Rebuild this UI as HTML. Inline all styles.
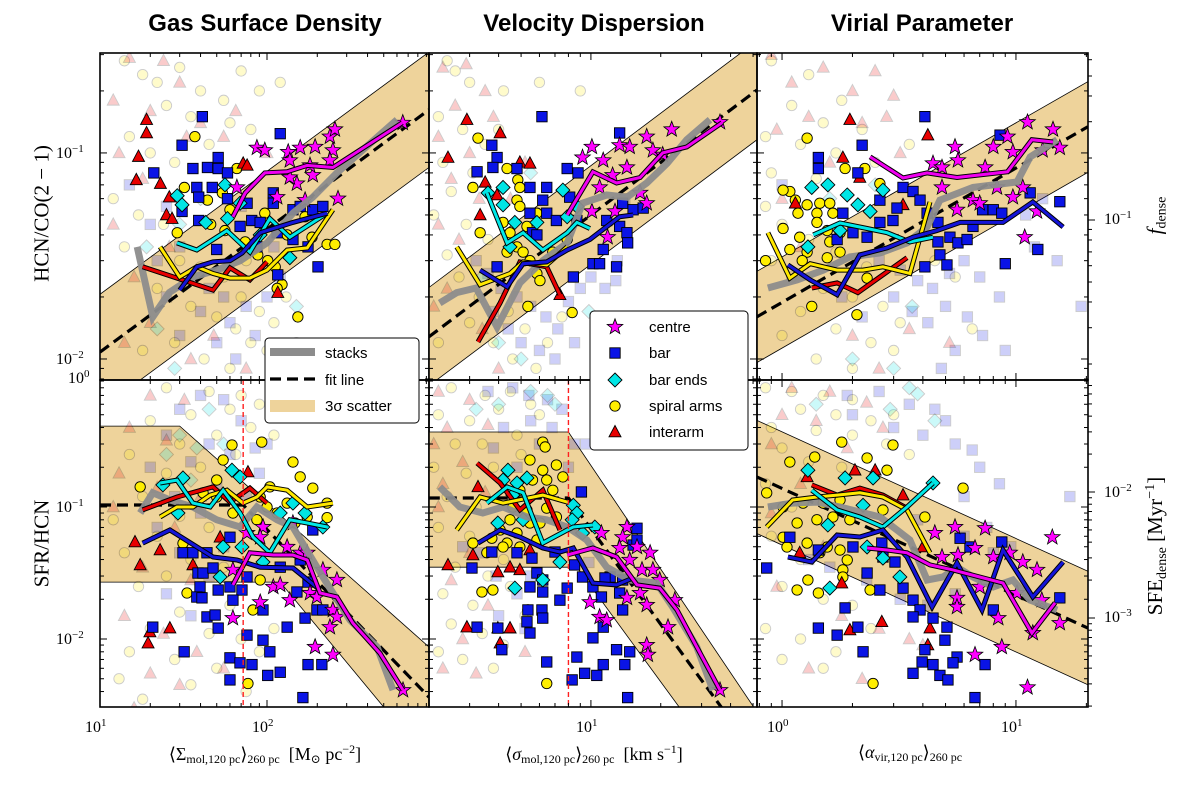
<!DOCTYPE html>
<html><head><meta charset="utf-8">
<style>
html,body{margin:0;padding:0;background:#fff;}
#wrap{position:relative;width:1200px;height:785px;overflow:hidden;background:#fff;font-family:"Liberation Serif","DejaVu Serif",serif;}
svg{position:absolute;left:0;top:0;}
.title{position:absolute;top:10px;font-family:"Liberation Sans",sans-serif;font-weight:bold;font-size:24px;text-align:center;width:330px;}
.tl{position:absolute;font-size:16px;white-space:nowrap;line-height:1;}
.tl sup{font-size:11px;vertical-align:6px;}
.xt{position:absolute;top:743px;font-size:18px;white-space:nowrap;text-align:center;line-height:1;}
.xt sub{font-size:12px;vertical-align:-3px;}
.xt sup{font-size:12px;vertical-align:7px;}
.yt{position:absolute;font-size:21px;white-space:nowrap;transform:rotate(-90deg);transform-origin:center center;text-align:center;line-height:1;}
.yt sub{font-size:14px;vertical-align:-4px;}
.yt sup{font-size:14px;vertical-align:8px;}
.lg{font-family:"Liberation Sans",sans-serif;font-size:15px;}
</style></head><body>
<div id="wrap">
<svg id="plot" width="1200" height="785" viewBox="0 0 1200 785"></svg>

<div class="title" style="left:100px">Gas Surface Density</div>
<div class="title" style="left:429px">Velocity Dispersion</div>
<div class="title" style="left:757px">Virial Parameter</div>

<div class="tl" style="left:56px;top:144px">10<sup>−1</sup></div>
<div class="tl" style="left:56px;top:350px">10<sup>−2</sup></div>
<div class="tl" style="left:68px;top:369px">10<sup>0</sup></div>
<div class="tl" style="left:56px;top:498px">10<sup>−1</sup></div>
<div class="tl" style="left:56px;top:630px">10<sup>−2</sup></div>

<div class="tl" style="left:1104px;top:210px">10<sup>−1</sup></div>
<div class="tl" style="left:1104px;top:483px">10<sup>−2</sup></div>
<div class="tl" style="left:1104px;top:608px">10<sup>−3</sup></div>

<div class="tl" style="left:85px;top:718px">10<sup>1</sup></div>
<div class="tl" style="left:252px;top:718px">10<sup>2</sup></div>
<div class="tl" style="left:576px;top:718px">10<sup>1</sup></div>
<div class="tl" style="left:767px;top:718px">10<sup>0</sup></div>
<div class="tl" style="left:1001px;top:718px">10<sup>1</sup></div>

<div class="xt" style="left:100px;width:330px">⟨Σ<sub>mol,120 pc</sub>⟩<sub>260 pc</sub> &nbsp;[M<sub>⊙</sub> pc<sup>−2</sup>]</div>
<div class="xt" style="left:429px;width:330px">⟨<i>σ</i><sub>mol,120 pc</sub>⟩<sub>260 pc</sub> &nbsp;[km s<sup>−1</sup>]</div>
<div class="xt" style="left:745px;width:330px">⟨<i>α</i><sub>vir,120 pc</sub>⟩<sub>260 pc</sub></div>

<div class="yt" style="left:-48px;top:203px;width:180px">HCN/CO(2 − 1)</div>
<div class="yt" style="left:-48px;top:533px;width:180px">SFR/HCN</div>
<div class="yt" style="left:1092px;top:203px;width:130px"><i>f</i><sub>dense</sub></div>
<div class="yt" style="left:1057px;top:533px;width:200px">SFE<sub>dense</sub> [Myr<sup>−1</sup>]</div>
</div>

<script>
// ---------- axis definitions ----------
const COLS=[{x0:100,x1:429,a:1,b:2.97},{x0:429,x1:757,a:0.302,b:1.716},{x0:757,x1:1088,a:-0.107,b:1.308}];
const ROWS=[{y0:53,y1:380,a:-2.102,b:-0.515},{y0:380,y1:707,a:-2.515,b:-0.038}];

// ---------- Panel 1: HCN/CO vs Sigma ----------
const p1FitX=[10,933];
const p1FitY=[0.0108,0.162];
const p1BandUpper=[[10,0.0206],[933,0.309]];
const p1BandLower=[[10,0.00568],[933,0.0851]];
const p1Stack=[[16.7,0.035],[20.7,0.016],[26,0.021],[36,0.025],[50,0.027],[69,0.030],[100,0.0366],[143,0.051],[188,0.061],[262,0.080],[600,0.145]];
const p1LineCentre=[[62.5,0.049],[74,0.064],[97,0.080],[132,0.081],[174,0.087],[248,0.085],[646,0.14]];
const p1LineBarEnds=[[28.9,0.0366],[38,0.0338],[57.5,0.042],[79,0.033],[104,0.048],[137,0.039],[229,0.051]];
const p1LineBar=[[30,0.0216],[38,0.028],[47.5,0.0296],[60,0.030],[71,0.0327],[91,0.041],[143,0.046],[229,0.051]];
const p1LineSpiral=[[22.9,0.035],[30,0.025],[38,0.028],[47.5,0.026],[60,0.0247],[79,0.0247],[100,0.027],[132,0.0338],[174,0.0346],[248,0.053]];
const p1LineInter=[[18,0.028],[28.9,0.0247],[47.5,0.0216],[60,0.0277],[79,0.0242],[100,0.0296]];
const p1Bar=[[41,0.15],[120,0.124],[31,0.109],[21,0.08],[51,0.095],[44,0.085],[36,0.084],[51,0.084],[58,0.08],[38,0.068],[47,0.068],[39,0.061],[58,0.060],[31,0.052],[39,0.047],[76,0.057],[81,0.047],[109,0.064],[109,0.057],[143,0.053],[158,0.055],[188,0.053],[216,0.055],[91,0.046],[115,0.041],[143,0.038],[176,0.035],[202,0.028],[116,0.0256],[87,0.035],[69,0.044],[50,0.034]];
const p1Spiral=[[37,0.12],[32,0.068],[66,0.084],[29,0.041],[54,0.064],[44,0.059],[60,0.053],[97,0.051],[132,0.040],[169,0.049],[229,0.036],[88,0.032],[101,0.030],[112,0.028],[123,0.023],[115,0.022],[153,0.016],[74,0.037],[46,0.045],[56,0.042],[255,0.036],[186,0.039]];
const p1BarEnd=[[29,0.062],[31,0.056],[43,0.046],[56,0.070],[58,0.048],[91,0.040],[137,0.031],[69,0.057]];
const p1Inter=[[19,0.145],[19,0.125],[17,0.096],[16.5,0.074],[23,0.071],[26,0.061],[25,0.050],[27,0.048],[72,0.089],[76,0.087],[116,0.021]];
const p1Centre=[[87,0.106],[97,0.103],[134,0.101],[158,0.106],[137,0.092],[194,0.107],[238,0.12],[255,0.13],[248,0.103],[238,0.092],[188,0.078],[151,0.071],[115,0.061],[137,0.076],[66,0.068],[266,0.060],[169,0.059],[650,0.14],[181,0.087]];
const p1BgCircle=[[14,0.28],[18,0.24],[22,0.22],[30,0.26],[40,0.2],[55,0.18],[70,0.25],[90,0.2],[120,0.22],[25,0.17],[35,0.15],[60,0.14],[80,0.13],[15,0.12],[20,0.1],[28,0.09],[45,0.11],[12,0.06],[17,0.05],[24,0.045],[14,0.035],[30,0.03],[40,0.028],[55,0.025],[70,0.02],[22,0.022],[35,0.018],[50,0.016],[65,0.014],[80,0.012],[100,0.011],[28,0.012],[42,0.01],[18,0.011],[90,0.017],[110,0.015],[60,0.009],[130,0.02],[75,0.03],[150,0.012]];
const p1BgSquare=[[20,0.045],[25,0.055],[30,0.035],[22,0.03],[35,0.025],[45,0.022],[55,0.02],[40,0.017],[60,0.015],[75,0.018],[85,0.013],[50,0.012],[30,0.013],[100,0.02],[120,0.025],[65,0.01],[25,0.02],[15,0.07],[70,0.055],[110,0.035]];
const p1BgTri=[[15,0.29],[24,0.28],[30,0.22],[12,0.18],[20,0.16],[40,0.14],[65,0.16],[13,0.1],[33,0.12],[55,0.12],[18,0.075],[12,0.045],[26,0.035],[16,0.025],[20,0.015],[35,0.01],[48,0.013],[75,0.009],[14,0.012],[100,0.1]];
const p1BgDiamond=[[19,0.035],[30,0.045],[22,0.014],[28,0.009],[150,0.018],[40,0.06]];

// ---------- Panel 2: HCN/CO vs velocity dispersion ----------
const p2FitX=[2.0,52];
const p2FitY=[0.0128,0.202];
const p2BandUpper=[[2.0,0.0222],[52,0.35]];
const p2BandLower=[[2.0,0.0074],[52,0.116]];
const p2Stack=[[2.23,0.0187],[2.64,0.021],[3.2,0.0221],[3.94,0.0143],[4.94,0.0234],[6.2,0.030],[7.9,0.0366],[9.2,0.057],[11.7,0.0625],[14.3,0.061],[17.4,0.0715],[21.3,0.089],[25.9,0.116],[32.6,0.145]];
const p2LineCentre=[[7.9,0.050],[10.2,0.081],[12.9,0.0715],[16.3,0.076],[20.4,0.1],[25.9,0.107],[36.7,0.14]];
const p2LineBarEnds=[[3.56,0.064],[4.35,0.0366],[5.1,0.041],[6.2,0.0338],[7.9,0.041],[8.7,0.046],[9.9,0.043]];
const p2LineBar=[[3.33,0.027],[4.35,0.0224],[5.1,0.029],[6.45,0.0296],[7.9,0.0338],[9.9,0.038],[13.3,0.049],[15.2,0.050]];
const p2LineSpiral=[[2.64,0.035],[3.33,0.0229],[4.48,0.026],[5.1,0.0296],[6.45,0.0286],[7.9,0.035]];
const p2LineInter=[[3.26,0.0121],[4.06,0.0187],[4.94,0.0296],[6.45,0.028],[7.35,0.0205]];
const p2Bar=[[6.15,0.15],[3.74,0.109],[3.94,0.095],[3.78,0.085],[3.23,0.081],[4.8,0.084],[7.9,0.084],[8.8,0.08],[5.46,0.068],[6.45,0.068],[6.2,0.059],[5.46,0.051],[6.45,0.051],[7.1,0.047],[5.6,0.041],[5.85,0.040],[8.1,0.061],[8.7,0.047],[13.3,0.125],[13.7,0.057],[11.7,0.047],[13.3,0.044],[14.3,0.041],[15.2,0.053],[16.8,0.054],[14.4,0.0366],[11.3,0.034],[10.2,0.029],[10.9,0.029],[12.9,0.028],[8.4,0.025],[3.94,0.028]];
const p2Spiral=[[3.26,0.118],[3.1,0.068],[3.33,0.041],[4.35,0.084],[4.84,0.074],[4.94,0.068],[4.8,0.059],[4.94,0.055],[4.18,0.046],[4.48,0.041],[5.3,0.044],[5.85,0.051],[4.8,0.035],[5.1,0.033],[5.85,0.026],[6.03,0.024],[5.46,0.030],[6.85,0.033],[4.35,0.033],[5.35,0.018],[8.3,0.0168],[7.9,0.038]];
const p2BarEnd=[[3.6,0.064],[4.18,0.068],[4.18,0.056],[4.7,0.046],[4.48,0.035],[5.85,0.046],[7.57,0.066],[8.7,0.055],[7.9,0.049]];
const p2Inter=[[2.92,0.145],[4.06,0.125],[2.42,0.095],[3.5,0.072],[3.33,0.050],[3.94,0.0625],[4.94,0.09],[5.46,0.089],[7.35,0.0205]];
const p2Centre=[[10.1,0.107],[9.2,0.095],[11.3,0.092],[13.3,0.109],[14.7,0.107],[17.4,0.12],[22.3,0.13],[18.5,0.103],[14.3,0.085],[12.4,0.078],[10.9,0.068],[10.1,0.052],[12.7,0.052],[16.3,0.064],[17.4,0.057],[11.8,0.039],[20.4,0.098],[36,0.141]];
const p2BgCircle=[[2.4,0.28],[2.6,0.25],[3.0,0.22],[4.2,0.2],[2.2,0.15],[2.8,0.13],[3.5,0.11],[2.3,0.09],[3.1,0.08],[2.5,0.065],[2.1,0.05],[2.9,0.045],[3.6,0.038],[2.4,0.032],[2.7,0.025],[3.3,0.02],[4.4,0.017],[5.2,0.014],[3.8,0.012],[4.6,0.01],[6.5,0.012],[2.2,0.012],[3.0,0.015],[5.8,0.009],[7.5,0.016],[6.0,0.22],[4.0,0.13],[9.0,0.2]];
const p2BgSquare=[[3.2,0.03],[3.6,0.026],[4.1,0.022],[4.8,0.02],[5.5,0.018],[6.4,0.016],[7.2,0.014],[8.0,0.019],[9.0,0.022],[10,0.025],[11.5,0.022],[12.8,0.024],[4.4,0.014],[5.0,0.012],[6.0,0.011],[7.0,0.01],[3.8,0.017],[8.5,0.012],[14,0.06],[13,0.03]];
const p2BgTri=[[2.3,0.26],[2.9,0.27],[3.5,0.2],[2.6,0.17],[3.8,0.15],[2.2,0.12],[3.0,0.1],[2.5,0.075],[3.3,0.06],[2.2,0.045],[2.7,0.038],[2.4,0.022],[3.4,0.014],[4.5,0.06],[5.2,0.09],[2.1,0.018],[4.0,0.009]];
const p2BgDiamond=[[4.0,0.012],[5.0,0.01],[3.4,0.025],[9.8,0.017],[5.5,0.08]];

// ---------- Panel 3: HCN/CO vs virial parameter ----------
const p3FitX=[0.78,20.3];
const p3FitY=[0.016,0.134];
const p3BandUpper=[[0.78,0.0266],[20.3,0.222]];
const p3BandLower=[[0.78,0.0096],[20.3,0.0805]];
const p3Stack=[[0.87,0.0221],[1.16,0.0242],[1.5,0.027],[1.95,0.0313],[2.62,0.0327],[3.42,0.0366],[4.17,0.0437],[4.73,0.059],[6.55,0.068],[10.1,0.0723],[11.5,0.0957],[15,0.116]];
const p3LineCentre=[[2.38,0.0957],[3.29,0.0756],[4.17,0.080],[5.6,0.076],[9.2,0.081],[11.7,0.116],[14.4,0.113]];
const p3LineBarEnds=[[1.36,0.040],[1.77,0.0457],[2.31,0.043],[2.81,0.041],[3.52,0.037],[4.42,0.039]];
const p3LineBar=[[1.06,0.0286],[1.32,0.0242],[1.72,0.0205],[2.15,0.032],[2.81,0.0346],[3.63,0.039],[4.59,0.042],[5.77,0.046],[8.8,0.046],[11.8,0.0578],[15.9,0.0437]];
const p3LineSpiral=[[0.87,0.041],[1.08,0.0247],[1.32,0.029],[1.72,0.027],[2.22,0.027],[2.7,0.028],[3.52,0.026],[4.29,0.0578]];
const p3LineInter=[[1.34,0.0221],[1.72,0.0234],[2.11,0.021],[3.42,0.031]];
const p3Bar=[[4.08,0.15],[2.2,0.109],[1.43,0.095],[1.43,0.084],[2.11,0.08],[2.62,0.059],[1.82,0.051],[1.72,0.038],[2.01,0.041],[2.31,0.039],[2.62,0.046],[2.98,0.047],[3.1,0.054],[3.29,0.068],[3.63,0.065],[3.89,0.059],[4.17,0.051],[4.64,0.046],[4.64,0.037],[4.73,0.032],[5.07,0.0286],[4.08,0.028],[5.22,0.039],[5.65,0.0366],[6.18,0.038],[6.55,0.044],[7.2,0.053],[8.0,0.053],[8.7,0.051],[8.55,0.122],[11.5,0.064],[15.4,0.058],[12.4,0.034],[9.0,0.029]];
const p3Spiral=[[1.28,0.118],[1.86,0.084],[1.08,0.065],[1.14,0.059],[1.28,0.056],[1.45,0.057],[1.6,0.057],[1.17,0.051],[1.41,0.051],[1.65,0.051],[1.01,0.043],[1.19,0.039],[1.41,0.046],[1.56,0.042],[1.77,0.041],[1.6,0.037],[1.08,0.034],[1.28,0.033],[1.56,0.031],[0.85,0.030],[1.22,0.030],[1.77,0.033],[2.31,0.0247],[1.34,0.018],[2.09,0.0164],[2.26,0.084],[2.62,0.071],[1.01,0.066]];
const p3BarEnd=[[1.34,0.068],[1.57,0.070],[1.9,0.0625],[2.11,0.056],[2.7,0.066],[2.38,0.052],[1.29,0.035],[1.77,0.042]];
const p3Inter=[[1.95,0.145],[4.2,0.122],[1.82,0.095],[1.14,0.057],[2.15,0.076],[3.29,0.056]];
const p3Centre=[[5.49,0.107],[5.65,0.092],[4.42,0.089],[4.83,0.085],[7.38,0.085],[8.0,0.107],[9.2,0.12],[11.2,0.141],[14.4,0.13],[13,0.103],[15.4,0.106],[9.7,0.101],[4.83,0.068],[6.55,0.059],[5.6,0.053],[8.3,0.068],[9.7,0.061],[10.7,0.068],[12.3,0.052],[10.9,0.039],[7.0,0.057]];
const p3BgCircle=[[0.9,0.28],[1.3,0.24],[1.8,0.18],[1.1,0.17],[1.5,0.14],[2.2,0.13],[0.85,0.12],[1.2,0.11],[1.7,0.1],[2.5,0.09],[3.5,0.11],[0.9,0.08],[1.4,0.075],[0.85,0.055],[1.0,0.045],[1.3,0.038],[1.7,0.033],[2.3,0.028],[0.9,0.03],[1.1,0.025],[1.5,0.022],[2.0,0.02],[2.7,0.018],[1.2,0.017],[1.7,0.014],[2.4,0.012],[3.2,0.015],[1.0,0.013],[1.4,0.01],[2.0,0.009],[3.0,0.011],[4.5,0.03],[5.5,0.025],[6.5,0.014]];
const p3BgSquare=[[2.6,0.03],[3.2,0.027],[3.8,0.024],[4.4,0.022],[5.2,0.026],[6.0,0.03],[7.0,0.025],[3.0,0.02],[3.6,0.017],[4.2,0.015],[5.0,0.018],[6.2,0.016],[7.2,0.013],[8.5,0.02],[9.0,0.011],[12,0.035],[15,0.03],[19,0.018],[5.5,0.011],[1.8,0.02],[2.2,0.016],[11,0.05],[13,0.06],[4.8,0.009],[1.0,0.07]];
const p3BgTri=[[0.9,0.3],[1.5,0.26],[2.5,0.25],[1.1,0.22],[2.0,0.2],[3.0,0.19],[1.3,0.15],[2.8,0.15],[0.95,0.13],[2.2,0.14],[3.2,0.1],[1.6,0.09],[1.0,0.06],[1.2,0.035],[2.0,0.013],[3.5,0.014],[5.2,0.012],[2.6,0.009]];
const p3BgDiamond=[[1.6,0.06],[3.6,0.018],[3.0,0.009],[2.0,0.01],[2.5,0.07]];

// ---------- Panel 4: SFR/HCN vs Sigma ----------
const p4FitX=[10,72,933];
const p4FitY=[0.1035,0.1035,0.00363];
const p4Band=[[10,0.41],[30,0.41],[933,0.0087],[933,0.0028],[529,0.0028],[120,0.027],[10,0.027]];
const p4Stack=[[17.4,0.090],[20.7,0.128],[26.2,0.113],[36,0.1],[50,0.080],[69,0.0705],[87,0.1],[115,0.080],[143,0.0705],[199,0.035],[248,0.0223],[314,0.0139],[456,0.0087],[568,0.0041]];
const p4LineCentre=[[62.5,0.0257],[79,0.045],[109,0.0433],[143,0.0433],[174,0.0397],[208,0.0223],[262,0.0208],[327,0.0132],[475,0.0078],[652,0.0041]];
const p4LineBarEnds=[[22.9,0.152],[28.9,0.16],[36,0.107],[45.6,0.1],[54.6,0.134],[69,0.090],[82.4,0.0593],[104,0.045],[137,0.080],[174,0.0756],[229,0.0705]];
const p4LineBar=[[18,0.0533],[26.2,0.067],[47.5,0.0418],[66,0.0397],[91,0.035],[143,0.0345],[208,0.0235]];
const p4LineSpiral=[[22.9,0.084],[28.9,0.1],[36,0.1],[45.6,0.123],[57.5,0.134],[71.8,0.107],[87,0.119],[100,0.142],[132,0.134],[174,0.1],[248,0.107]];
const p4LineInter=[[18,0.095],[28.9,0.119],[47.5,0.142],[60,0.109],[79,0.139],[100,0.107]];
const p4Bar=[[31.4,0.045],[36,0.045],[43.7,0.045],[60,0.059],[38.6,0.0316],[41.4,0.0316],[47.5,0.0345],[39.7,0.0248],[38,0.0208],[40.8,0.0205],[51,0.0235],[60,0.0248],[70.8,0.0235],[75.9,0.0295],[62.5,0.0197],[43.7,0.0147],[48.9,0.0152],[51,0.0121],[75.9,0.0107],[60,0.0072],[68.9,0.0066],[81.3,0.0064],[101,0.0053],[120,0.0056],[94.6,0.0098],[104,0.008],[132,0.0123],[169,0.0144],[199,0.0166],[216,0.0166],[151,0.0227],[176,0.027],[176,0.0064],[213,0.0064],[164,0.0036],[31.9,0.008],[60,0.0049],[20.7,0.0123],[120,0.035],[158,0.0397],[188,0.067],[94.6,0.0166]];
const p4Spiral=[[61.7,0.295],[93,0.31],[143,0.219],[158,0.169],[188,0.139],[54.6,0.227],[50,0.16],[17.4,0.142],[104,0.142],[91,0.119],[132,0.107],[100,0.1],[87,0.080],[115,0.090],[229,0.107],[229,0.083],[174,0.084],[31.4,0.053],[91,0.028],[82.4,0.0166],[76.9,0.0046],[33.2,0.0223],[62.5,0.090],[50,0.119],[41.4,0.128],[147,0.0756]];
const p4BarEnd=[[23.8,0.147],[31.4,0.166],[29.3,0.090],[61.7,0.19],[68.9,0.169],[54.6,0.0498],[70.8,0.0498],[52.4,0.0295],[94.6,0.0383],[120,0.090],[169,0.090],[143,0.107],[216,0.0705]];
const p4Inter=[[76.9,0.184],[16.2,0.0543],[22.9,0.0472],[17.4,0.0364],[36,0.0364],[52.4,0.059],[19.9,0.0113],[26.2,0.0121],[19.4,0.0093]];
const p4Centre=[[94.6,0.0705],[91,0.059],[132,0.0498],[158,0.045],[174,0.045],[216,0.0334],[262,0.028],[248,0.0166],[238,0.0123],[262,0.0147],[62.5,0.0334],[62.5,0.0144],[91,0.019],[109,0.0248],[120,0.0257],[137,0.0197],[181,0.0223],[199,0.0208],[194,0.0087],[248,0.0076],[652,0.0041],[143,0.0756],[75.9,0.0635]];
const p4BgCircle=[[25,0.8],[45,0.75],[70,0.7],[90,0.6],[60,0.55],[35,0.5],[20,0.45],[80,0.4],[110,0.35],[50,0.35],[30,0.3],[15,0.25],[65,0.25],[40,0.2],[25,0.18],[18,0.12],[12,0.08],[30,0.085],[45,0.07],[22,0.06],[14,0.045],[35,0.04],[55,0.035],[25,0.03],[17,0.025],[40,0.022],[60,0.018],[30,0.016],[20,0.012],[45,0.011],[70,0.01],[15,0.008],[28,0.007],[50,0.006],[90,0.008],[13,0.005],[35,0.0045],[18,0.0035],[75,0.004],[110,0.012]];
const p4BgSquare=[[40,0.7],[55,0.65],[30,0.55],[70,0.45],[25,0.35],[45,0.3],[85,0.28],[60,0.25],[35,0.22],[20,0.2],[50,0.15],[28,0.12],[75,0.12],[40,0.09],[22,0.07],[55,0.05],[30,0.045],[45,0.03],[25,0.022],[35,0.015],[100,0.3],[90,0.18]];
const p4BgTri=[[20,0.7],[32,0.65],[15,0.4],[25,0.32],[13,0.18],[22,0.14],[40,0.12],[12,0.1],[28,0.07],[18,0.035],[35,0.028],[14,0.015],[24,0.011],[38,0.008],[20,0.0055],[30,0.0045],[55,0.006],[16,0.003]];
const p4BgDiamond=[[45,0.55],[30,0.35],[38,0.28],[55,0.3],[25,0.25],[35,0.16]];

// ---------- Panel 5: SFR/HCN vs velocity dispersion ----------
const p5FitX=[2,8,36.7];
const p5FitY=[0.117,0.117,0.003];
const p5Band=[[2,0.37],[8,0.37],[52,0.0028],[24.9,0.0028],[8.7,0.035],[2,0.035]];
const p5Stack=[[2.23,0.142],[2.72,0.1],[3.42,0.090],[4.18,0.1],[5.3,0.084],[6.45,0.080],[7.9,0.0705],[9.6,0.0562],[11.7,0.035],[14.7,0.028],[19.2,0.0265],[22.5,0.0175],[28.6,0.0087],[33.6,0.0041]];
const p5LineCentre=[[7.9,0.0433],[10.2,0.0489],[12.9,0.0418],[15.8,0.0257],[19.8,0.0243],[23.5,0.0166],[28.6,0.0087],[36,0.0041]];
const p5LineBarEnds=[[3.56,0.107],[4.35,0.142],[5.1,0.128],[6.2,0.0533],[7.9,0.067],[8.4,0.0705],[10.2,0.073]];
const p5LineBar=[[3.26,0.0533],[4.06,0.067],[4.94,0.0593],[6.2,0.0489],[7.35,0.0456],[8.4,0.0489],[10.2,0.0265],[12.9,0.0257],[15.2,0.029]];
const p5LineSpiral=[[2.64,0.067],[3.33,0.119],[4.18,0.107],[6.2,0.123],[7.9,0.109]];
const p5LineInter=[[3.23,0.215],[4.06,0.152],[4.94,0.095],[6.2,0.134],[7.35,0.067]];
const p5Bar=[[9.1,0.13],[3.07,0.0345],[3.74,0.0456],[4.8,0.045],[5.57,0.041],[7.0,0.0456],[8.5,0.0364],[5.85,0.0316],[6.2,0.028],[5.46,0.0248],[6.2,0.0227],[7.9,0.0243],[9.2,0.0295],[10.2,0.0248],[11.1,0.0208],[12.1,0.0295],[13.3,0.0223],[15.8,0.069],[13.7,0.0166],[11.3,0.0123],[5.35,0.0166],[6.15,0.0166],[6.2,0.0144],[5.3,0.0135],[5.46,0.0111],[4.13,0.0083],[6.45,0.0067],[8.7,0.0073],[9.4,0.0055],[10.6,0.0053],[11.3,0.0064],[10.2,0.0102],[12.9,0.0083],[14,0.0064],[14.7,0.008],[8.3,0.0049],[14.4,0.0036],[3.23,0.0123],[3.97,0.0121],[7.35,0.0197],[15.2,0.0515],[15.8,0.0562],[11.5,0.029],[13.7,0.028]];
const p5Spiral=[[6.2,0.31],[6.35,0.285],[5.46,0.227],[6.2,0.19],[7.1,0.208],[5.6,0.16],[6.45,0.16],[7.57,0.169],[4.94,0.134],[6.85,0.134],[4.61,0.1],[5.3,0.095],[6.45,0.098],[4.48,0.080],[5.46,0.0756],[4.06,0.067],[4.8,0.0635],[6.03,0.0756],[3.1,0.0533],[3.74,0.058],[4.35,0.0533],[4.94,0.0498],[5.85,0.0562],[7.1,0.084],[3.39,0.0227],[3.78,0.0235],[5.35,0.0166],[6.45,0.0046],[4.18,0.0498],[3.56,0.045]];
const p5BarEnd=[[4.39,0.19],[4.18,0.16],[4.8,0.152],[5.3,0.166],[4.61,0.123],[5.1,0.080],[3.97,0.0756],[8.4,0.103],[8.7,0.090],[8.3,0.080],[7.35,0.0383],[6.2,0.028],[4.7,0.0243],[10.4,0.0705],[9.2,0.0635]];
const p5Inter=[[3.26,0.142],[2.42,0.0364],[3.1,0.0433],[3.97,0.0322],[4.94,0.0334],[4.48,0.035],[2.92,0.0123],[3.97,0.0121],[4.48,0.0121],[4.06,0.0093],[5.46,0.0472]];
const p5Centre=[[14.3,0.0705],[11.1,0.0635],[13.7,0.059],[15.8,0.0498],[13.3,0.0489],[18,0.045],[14.7,0.0397],[16.6,0.0334],[18.5,0.0334],[16.3,0.0223],[14.3,0.0205],[17.4,0.0181],[9.9,0.019],[10.9,0.0147],[11.7,0.0139],[23,0.0197],[21.5,0.0123],[17.4,0.009],[17.6,0.0076],[36,0.0041],[19.8,0.028]];
const p5BgCircle=[[2.5,0.8],[3.5,0.7],[4.5,0.75],[2.2,0.5],[3.0,0.45],[4.0,0.55],[5.5,0.6],[2.6,0.3],[3.4,0.3],[4.8,0.35],[2.1,0.2],[2.9,0.18],[3.8,0.2],[2.4,0.12],[3.2,0.1],[2.2,0.07],[3.0,0.06],[4.2,0.04],[2.6,0.035],[3.6,0.03],[2.3,0.022],[3.1,0.018],[4.5,0.025],[2.5,0.013],[3.4,0.011],[4.2,0.009],[2.8,0.007],[3.8,0.006],[2.2,0.008],[5.2,0.015],[6.0,0.5],[5.0,0.25]];
const p5BgSquare=[[3.6,0.75],[4.6,0.8],[5.4,0.7],[6.5,0.65],[7.5,0.55],[4.2,0.4],[5.5,0.45],[6.8,0.4],[8.5,0.3],[9.5,0.3],[3.8,0.28],[6.0,0.3],[4.8,0.2],[3.3,0.045],[3.9,0.03],[4.8,0.022],[5.5,0.03],[2.8,0.05],[9.8,0.038],[8.0,0.2],[4.0,0.015],[5.2,0.012]];
const p5BgTri=[[2.2,0.75],[3.0,0.65],[2.4,0.4],[3.6,0.42],[2.1,0.3],[2.8,0.22],[2.3,0.15],[3.5,0.13],[2.2,0.1],[3.0,0.045],[2.5,0.028],[3.6,0.018],[4.5,0.012],[2.8,0.01],[5.2,0.008],[3.2,0.0055],[2.3,0.006]];
const p5BgDiamond=[[5.5,0.75],[6.5,0.7],[4.0,0.6],[3.2,0.55],[7.0,0.6]];

// ---------- Panel 6: SFR/HCN vs virial parameter ----------
const p6FitX=[0.78,20.3];
const p6FitY=[0.169,0.0121];
const p6Band=[[0.78,0.454],[20.3,0.0326],[20.3,0.0045],[0.78,0.063]];
const p6Stack=[[0.87,0.1],[1.11,0.107],[1.41,0.109],[1.77,0.1],[2.15,0.0917],[2.62,0.084],[3.1,0.067],[3.52,0.0562],[4.17,0.028],[4.88,0.0295],[5.6,0.035],[6.55,0.0295],[8.0,0.0248],[9.7,0.028],[11.5,0.0197],[15,0.0166]];
const p6LineCentre=[[2.31,0.0489],[2.81,0.0472],[3.42,0.045],[4.29,0.0364],[5.38,0.0334],[7.0,0.0295],[8.8,0.0265],[11.7,0.0111],[14.7,0.0188]];
const p6LineBarEnds=[[1.34,0.134],[1.72,0.095],[2.15,0.084],[2.7,0.0705],[3.42,0.1],[4.42,0.152]];
const p6LineBar=[[1.06,0.0418],[1.34,0.0383],[1.72,0.0614],[2.15,0.0593],[2.7,0.067],[3.42,0.0418],[4.38,0.0175],[5.6,0.0377],[7.16,0.0166],[8.8,0.0472],[11.8,0.0208],[15.9,0.0383]];
const p6LineSpiral=[[0.86,0.0705],[1.11,0.113],[1.41,0.119],[1.72,0.123],[2.15,0.128],[2.7,0.119],[3.42,0.095],[4.29,0.045]];
const p6LineInter=[[1.34,0.147],[1.72,0.123],[2.15,0.139],[2.7,0.123],[3.42,0.098]];
const p6Bar=[[0.86,0.0345],[1.08,0.059],[1.43,0.0472],[2.01,0.0498],[2.31,0.0316],[2.67,0.0533],[2.62,0.0235],[3.29,0.0243],[1.86,0.0172],[1.43,0.0121],[1.72,0.0107],[2.11,0.0123],[2.22,0.008],[2.7,0.0418],[3.63,0.0197],[3.89,0.0166],[3.63,0.0147],[4.42,0.0144],[5.07,0.0123],[4.08,0.0083],[3.97,0.0067],[4.42,0.0064],[4.73,0.0053],[5.12,0.0049],[4.97,0.0098],[5.6,0.0073],[5.38,0.0066],[7.38,0.0064],[6.68,0.0036],[6.36,0.0498],[5.77,0.058],[8.0,0.0166],[8.7,0.0543],[15.4,0.0205],[3.63,0.0055],[3.04,0.0383]];
const p6Spiral=[[1.8,0.31],[2.98,0.295],[1.38,0.239],[2.31,0.235],[1.08,0.219],[2.81,0.19],[0.86,0.128],[5.94,0.139],[4.08,0.084],[1.01,0.1],[1.23,0.107],[1.5,0.107],[1.77,0.113],[1.16,0.0756],[1.41,0.080],[1.65,0.084],[1.95,0.080],[1.01,0.059],[1.28,0.0533],[1.56,0.0498],[1.77,0.0472],[1.9,0.0397],[1.05,0.0498],[1.45,0.045],[1.82,0.0334],[1.29,0.028],[1.16,0.0235],[1.43,0.0223],[1.82,0.0295],[2.38,0.0235],[2.45,0.0046],[2.7,0.095]];
const p6BarEnd=[[1.29,0.19],[1.86,0.166],[2.45,0.166],[1.57,0.073],[2.22,0.103],[3.19,0.0295],[2.7,0.041],[1.6,0.0243],[2.31,0.0498],[4.42,0.152]];
const p6Inter=[[2.05,0.19],[2.5,0.19],[1.28,0.169],[3.29,0.123],[4.0,0.0498],[1.19,0.045],[1.8,0.0265],[2.67,0.0135],[1.95,0.0117],[4.29,0.0121],[4.2,0.009]];
const p6Centre=[[4.5,0.0635],[5.49,0.0705],[7.38,0.069],[6.68,0.0489],[5.65,0.0433],[4.83,0.0418],[8.0,0.0418],[10.7,0.0383],[12.3,0.0334],[9.4,0.045],[7.0,0.0248],[12.9,0.0197],[5.6,0.0205],[5.6,0.0175],[8.4,0.0144],[8.7,0.0087],[6.68,0.0076],[11.2,0.0043],[14.3,0.059],[15.4,0.0132],[11.8,0.0111],[10.1,0.0223]];
const p6BgCircle=[[0.85,0.8],[1.1,0.75],[1.5,0.7],[2.0,0.65],[1.2,0.55],[1.7,0.5],[2.4,0.45],[0.9,0.4],[1.4,0.38],[2.0,0.35],[2.8,0.3],[1.0,0.28],[1.3,0.22],[1.8,0.2],[2.5,0.18],[0.85,0.15],[1.1,0.1],[0.9,0.06],[1.2,0.04],[1.0,0.025],[1.5,0.02],[2.0,0.018],[0.85,0.012],[1.2,0.01],[1.7,0.008],[2.4,0.012],[1.0,0.007],[1.5,0.006],[3.5,0.25],[3.0,0.5]];
const p6BgSquare=[[1.9,0.7],[2.6,0.75],[3.5,0.6],[4.5,0.55],[5.0,0.45],[3.0,0.4],[4.0,0.35],[5.5,0.3],[6.5,0.27],[7.0,0.2],[8.5,0.15],[6.0,0.12],[17,0.12],[7.5,0.07],[9.5,0.05],[1.3,0.04],[1.6,0.035],[2.3,0.028],[3.2,0.02],[4.2,0.018],[5.5,0.022],[6.0,0.06],[8.0,0.045],[2.0,0.5],[3.8,0.08]];
const p6BgTri=[[1.1,0.8],[1.6,0.75],[2.3,0.62],[1.0,0.5],[1.4,0.45],[2.7,0.4],[0.9,0.3],[1.9,0.28],[1.2,0.15],[0.9,0.09],[1.5,0.05],[0.95,0.025],[1.8,0.015],[2.6,0.012],[3.5,0.01],[1.3,0.006],[2.2,0.005],[4.0,0.009]];
const p6BgDiamond=[[3.5,0.8],[3.8,0.72],[4.5,0.45],[2.9,0.55],[1.4,0.6]];

// threshold lines (red dashed vertical)
const thresholdSigma=[72];
const thresholdVdisp=[8];

const PANELS=[
 {c:0,r:0,name:'gas-density-hcn-co',fitX:p1FitX,fitY:p1FitY,bandU:p1BandUpper,bandL:p1BandLower,stack:p1Stack,lines:[p1LineInter,p1LineSpiral,p1LineBarEnds,p1LineBar,p1LineCentre],bg:[p1BgCircle,p1BgSquare,p1BgTri,p1BgDiamond],fg:[p1Spiral,p1Inter,p1Bar,p1BarEnd,p1Centre]},
 {c:1,r:0,name:'vdisp-hcn-co',fitX:p2FitX,fitY:p2FitY,bandU:p2BandUpper,bandL:p2BandLower,stack:p2Stack,lines:[p2LineInter,p2LineSpiral,p2LineBarEnds,p2LineBar,p2LineCentre],bg:[p2BgCircle,p2BgSquare,p2BgTri,p2BgDiamond],fg:[p2Spiral,p2Inter,p2Bar,p2BarEnd,p2Centre]},
 {c:2,r:0,name:'virial-hcn-co',fitX:p3FitX,fitY:p3FitY,bandU:p3BandUpper,bandL:p3BandLower,stack:p3Stack,lines:[p3LineInter,p3LineSpiral,p3LineBarEnds,p3LineBar,p3LineCentre],bg:[p3BgCircle,p3BgSquare,p3BgTri,p3BgDiamond],fg:[p3Spiral,p3Inter,p3Bar,p3BarEnd,p3Centre]},
 {c:0,r:1,name:'gas-density-sfr-hcn',fitX:p4FitX,fitY:p4FitY,band:p4Band,stack:p4Stack,lines:[p4LineInter,p4LineSpiral,p4LineBarEnds,p4LineBar,p4LineCentre],bg:[p4BgCircle,p4BgSquare,p4BgTri,p4BgDiamond],fg:[p4Spiral,p4Inter,p4Bar,p4BarEnd,p4Centre],vline:thresholdSigma},
 {c:1,r:1,name:'vdisp-sfr-hcn',fitX:p5FitX,fitY:p5FitY,band:p5Band,stack:p5Stack,lines:[p5LineInter,p5LineSpiral,p5LineBarEnds,p5LineBar,p5LineCentre],bg:[p5BgCircle,p5BgSquare,p5BgTri,p5BgDiamond],fg:[p5Spiral,p5Inter,p5Bar,p5BarEnd,p5Centre],vline:thresholdVdisp},
 {c:2,r:1,name:'virial-sfr-hcn',fitX:p6FitX,fitY:p6FitY,band:p6Band,stack:p6Stack,lines:[p6LineInter,p6LineSpiral,p6LineBarEnds,p6LineBar,p6LineCentre],bg:[p6BgCircle,p6BgSquare,p6BgTri,p6BgDiamond],fg:[p6Spiral,p6Inter,p6Bar,p6BarEnd,p6Centre]}
];

const NS='http://www.w3.org/2000/svg';
const svg=document.getElementById('plot');
function mk(tag,attrs,parent){const e=document.createElementNS(NS,tag);for(const k in attrs)e.setAttribute(k,attrs[k]);(parent||svg).appendChild(e);return e;}
function sx(c,v){const C=COLS[c];return C.x0+(Math.log10(v)-C.a)/(C.b-C.a)*(C.x1-C.x0);}
function sy(r,v){const R=ROWS[r];return R.y1-(Math.log10(v)-R.a)/(R.b-R.a)*(R.y1-R.y0);}
function pathOf(c,r,pts){return pts.map((p,i)=>(i?'L':'M')+sx(c,p[0]).toFixed(1)+' '+sy(r,p[1]).toFixed(1)).join(' ');}

const LINECOL=['#e80000','#ffe800','#00e8e8','#1414d8','#f000f0'];
const FILL=['#ffee00','#e80000','#0a14e6','#00e5e5','#ff00ff'];
const KIND=['circle','tri','square','diamond','star'];
const KNAME=['spiral-arms','interarm','bar','bar-ends','centre'];

function marker(g,kind,x,y,fill,op){
  let e;
  if(kind==='circle'){e=mk('circle',{cx:x,cy:y,r:5.2,fill:fill,stroke:'#000','stroke-width':0.9,opacity:op},g);}
  else if(kind==='square'){e=mk('rect',{x:x-5.2,y:y-5.2,width:10.4,height:10.4,fill:fill,stroke:'#000','stroke-width':0.9,opacity:op},g);}
  else if(kind==='diamond'){e=mk('polygon',{points:`${x},${y-7} ${x+7},${y} ${x},${y+7} ${x-7},${y}`,fill:fill,stroke:'#000','stroke-width':0.9,opacity:op},g);}
  else if(kind==='tri'){e=mk('polygon',{points:`${x},${y-6.5} ${x+6},${y+4.8} ${x-6},${y+4.8}`,fill:fill,stroke:'#000','stroke-width':0.9,opacity:op},g);}
  else {let pts=[];for(let i=0;i<10;i++){const R=i%2?3.4:8.2;const a=-Math.PI/2+i*Math.PI/5;pts.push((x+R*Math.cos(a)).toFixed(1)+','+(y+R*Math.sin(a)).toFixed(1));}
    e=mk('polygon',{points:pts.join(' '),fill:fill,stroke:'#000','stroke-width':0.8,opacity:op},g);}
  return e;
}

const defs=mk('defs',{});
PANELS.forEach((P,i)=>{
  const C=COLS[P.c],R=ROWS[P.r];
  const cp=mk('clipPath',{id:'cp'+i},defs);
  mk('rect',{x:C.x0,y:R.y0,width:C.x1-C.x0,height:R.y1-R.y0},cp);
  const g=mk('g',{'clip-path':'url(#cp'+i+')'});
  
  
  let bandPts;
  if(P.band){bandPts=P.band;}else{bandPts=P.bandU.concat(P.bandL.slice().reverse());}
  const band=mk('path',{d:pathOf(P.c,P.r,bandPts)+' Z',fill:'#eed39b',stroke:'#000','stroke-width':0.8},g);
  
  
  const bgKinds=['circle','square','tri','diamond'];
  const bgFill=['#ffee00','#0a14e6','#e80000','#00e5e5'];
  const bgNames=['spiral-arms','bar','interarm','bar-ends'];
  P.bg.forEach((arr,k)=>{arr.forEach(p=>{
    const e=marker(g,bgKinds[k],sx(P.c,p[0]),sy(P.r,p[1]),bgFill[k],0.2);
    
    
  });});
  const fit=mk('path',{d:pathOf(P.c,P.r,P.fitX.map((x,j)=>[x,P.fitY[j]])),fill:'none',stroke:'#000','stroke-width':3.2,'stroke-dasharray':'11,6'},g);
  
  
  P.fg.forEach((arr,k)=>{arr.forEach(p=>{
    const e=marker(g,KIND[k],sx(P.c,p[0]),sy(P.r,p[1]),FILL[k],1);
    
    
  });});
  const st=mk('path',{d:pathOf(P.c,P.r,P.stack),fill:'none',stroke:'#8c8c8c','stroke-width':7,'stroke-linejoin':'miter',opacity:0.95},g);
  
  
  P.lines.forEach((arr,k)=>{
    const d=pathOf(P.c,P.r,arr);
    const o=mk('path',{d:d,fill:'none',stroke:'#000','stroke-width':5},g);
    
    
    const l=mk('path',{d:d,fill:'none',stroke:LINECOL[k],'stroke-width':3},g);
    
    
  });
  if(P.vline){P.vline.forEach(v=>{
    const x=sx(P.c,v);
    const vl=mk('line',{x1:x,x2:x,y1:R.y0,y2:R.y1,stroke:'#ff2020','stroke-width':1.4,'stroke-dasharray':'5,3'},g);
    
    
  });}
  const tg=mk('g',{stroke:'#000','stroke-width':1});
  
  
  for(let d=Math.floor(C.a)-1;d<=Math.ceil(C.b);d++){for(let m=1;m<10;m++){
    const lv=d+Math.log10(m);if(lv<C.a||lv>C.b)continue;
    const x=C.x0+(lv-C.a)/(C.b-C.a)*(C.x1-C.x0);const L=m===1?7:4;
    mk('line',{x1:x,x2:x,y1:R.y1,y2:R.y1-L},tg);mk('line',{x1:x,x2:x,y1:R.y0,y2:R.y0+L},tg);}}
  for(let d=Math.floor(R.a)-1;d<=Math.ceil(R.b);d++){for(let m=1;m<10;m++){
    const lv=d+Math.log10(m);if(lv<R.a||lv>R.b)continue;
    const y=R.y1-(lv-R.a)/(R.b-R.a)*(R.y1-R.y0);const L=m===1?7:4;
    mk('line',{x1:C.x0,x2:C.x0+L,y1:y,y2:y},tg);mk('line',{x1:C.x1,x2:C.x1-L,y1:y,y2:y},tg);}}
  const fr=mk('rect',{x:C.x0,y:R.y0,width:C.x1-C.x0,height:R.y1-R.y0,fill:'none',stroke:'#000','stroke-width':1.6});
  
  
});

const rg=mk('g',{stroke:'#000','stroke-width':1});


[[53,380,220,206,-1],[380,707,492,126,-2]].forEach(s=>{
  for(let d=-5;d<=1;d++){for(let m=1;m<10;m++){
    const lv=d+Math.log10(m);const y=s[2]-(lv-s[4])*s[3];
    if(y<s[0]||y>s[1])continue;const L=m===1?7:4;
    mk('line',{x1:1088,x2:1088+L,y1:y,y2:y},rg);}}
});

const lg1=mk('g',{});


mk('rect',{x:265,y:338,width:154,height:85,rx:4,fill:'#fff',stroke:'#000','stroke-width':1},lg1);
mk('line',{x1:270,x2:315,y1:352,y2:352,stroke:'#8c8c8c','stroke-width':8},lg1);
mk('line',{x1:270,x2:315,y1:379,y2:379,stroke:'#000','stroke-width':3.2,'stroke-dasharray':'11,6'},lg1);
mk('rect',{x:270,y:400,width:45,height:12,fill:'#eed39b'},lg1);
[['stacks',358],['fit line',385],['3σ scatter',411]].forEach(t=>{const e=mk('text',{x:325,y:t[1],class:'lg'},lg1);e.textContent=t[0];
  
  });

const lg2=mk('g',{});


mk('rect',{x:590,y:311,width:158,height:139,rx:4,fill:'#fff',stroke:'#000','stroke-width':1},lg2);
const legItems=[['star','#ff00ff','centre',327],['square','#0a14e6','bar',353],['diamond','#00e5e5','bar ends',380],['circle','#ffee00','spiral arms',406],['tri','#e80000','interarm',432]];
legItems.forEach(it=>{
  const m=marker(lg2,it[0],615,it[3],it[1],1);
  
  
  const t=mk('text',{x:649,y:it[3]+5,class:'lg'},lg2);t.textContent=it[2];
  
  
});
</script>
</body></html>
